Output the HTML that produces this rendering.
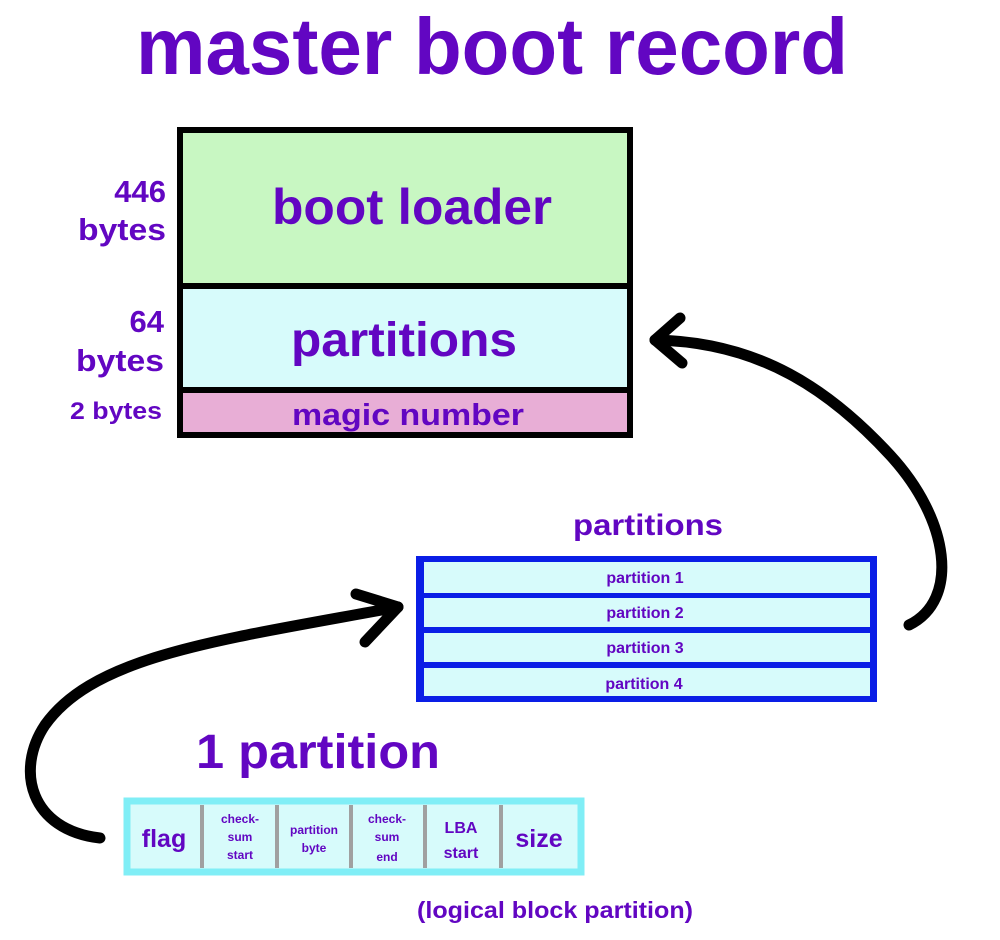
<!DOCTYPE html>
<html><head><style>
html,body{margin:0;padding:0;background:#fff;}
svg{display:block}
text{font-family:"Liberation Sans",sans-serif;font-weight:bold;fill:#6206c2;text-anchor:middle;}
</style></head><body>
<svg width="1000" height="940" viewBox="0 0 1000 940" xmlns="http://www.w3.org/2000/svg">
<text x="492" y="74" font-size="80" textLength="712" lengthAdjust="spacingAndGlyphs">master boot record</text>

<rect x="180" y="130" width="450" height="155" fill="#c8f7c2"/>
<rect x="180" y="288" width="450" height="101" fill="#d7fbfb"/>
<rect x="180" y="392" width="450" height="43" fill="#e8aed6"/>
<rect x="180" y="130" width="450" height="305" fill="none" stroke="#000" stroke-width="6"/>
<line x1="180" y1="286" x2="630" y2="286" stroke="#000" stroke-width="6"/>
<line x1="180" y1="390" x2="630" y2="390" stroke="#000" stroke-width="6"/>
<text x="412" y="224" font-size="50" textLength="280" lengthAdjust="spacingAndGlyphs">boot loader</text>
<text x="404" y="356" font-size="48" textLength="226" lengthAdjust="spacingAndGlyphs">partitions</text>
<text x="408" y="425" font-size="31" textLength="232" lengthAdjust="spacingAndGlyphs">magic number</text>
<text x="166" y="202" font-size="31" style="text-anchor:end">446</text>
<text x="166" y="240" font-size="31" style="text-anchor:end" textLength="88" lengthAdjust="spacingAndGlyphs">bytes</text>
<text x="164" y="332" font-size="31" style="text-anchor:end">64</text>
<text x="164" y="371" font-size="31" style="text-anchor:end" textLength="88" lengthAdjust="spacingAndGlyphs">bytes</text>
<text x="162" y="419" font-size="24" style="text-anchor:end" textLength="92" lengthAdjust="spacingAndGlyphs">2 bytes</text>

<text x="648" y="535" font-size="30" textLength="150" lengthAdjust="spacingAndGlyphs">partitions</text>
<rect x="416" y="556" width="461" height="146" fill="#0a1ee6"/>
<rect x="424" y="562" width="446" height="31" fill="#d7fbfb"/>
<rect x="424" y="598" width="446" height="29" fill="#d7fbfb"/>
<rect x="424" y="633" width="446" height="29" fill="#d7fbfb"/>
<rect x="424" y="668" width="446" height="28" fill="#d7fbfb"/>
<text x="645" y="583" font-size="16">partition 1</text>
<text x="645" y="618" font-size="16">partition 2</text>
<text x="645" y="653" font-size="16">partition 3</text>
<text x="644" y="689" font-size="16">partition 4</text>

<text x="318" y="768" font-size="48" textLength="244" lengthAdjust="spacingAndGlyphs">1 partition</text>
<rect x="127" y="801" width="454" height="71" fill="#d7fbfb" stroke="#80eef6" stroke-width="7"/>
<g fill="#a0a0a0">
<rect x="200" y="805" width="4" height="63"/>
<rect x="275" y="805" width="4" height="63"/>
<rect x="349" y="805" width="4" height="63"/>
<rect x="423" y="805" width="4" height="63"/>
<rect x="499" y="805" width="4" height="63"/>
</g>
<text x="164" y="847" font-size="25">flag</text>
<text x="240" y="823" font-size="12">check-</text>
<text x="240" y="841" font-size="12">sum</text>
<text x="240" y="859" font-size="12">start</text>
<text x="314" y="834" font-size="12">partition</text>
<text x="314" y="852" font-size="12">byte</text>
<text x="387" y="823" font-size="12">check-</text>
<text x="387" y="841" font-size="12">sum</text>
<text x="387" y="861" font-size="12">end</text>
<text x="461" y="833" font-size="16">LBA</text>
<text x="461" y="858" font-size="16">start</text>
<text x="539" y="847" font-size="25">size</text>
<text x="555" y="918" font-size="23" textLength="276" lengthAdjust="spacingAndGlyphs">(logical block partition)</text>

<g fill="none" stroke="#000" stroke-width="11" stroke-linecap="round" stroke-linejoin="round">
<path d="M100,838 C30,830 15,770 45,725 C95,655 220,640 398,607"/>
<path d="M356,594 L398,607 L365,642"/>
<path d="M909,625 C960,600 950,520 890,455 C830,390 760,342 655,340"/>
<path d="M680,318 L655,340 L682,363"/>
</g>
</svg>
</body></html>
